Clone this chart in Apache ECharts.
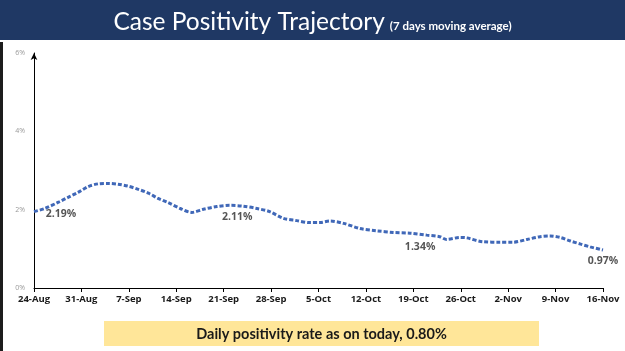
<!DOCTYPE html>
<html>
<head>
<meta charset="utf-8">
<script src="https://cdn.jsdelivr.net/npm/echarts@6/dist/echarts.min.js"></script>
<style>
html,body{margin:0;padding:0;background:#fff;}
#chart{width:625px;height:351px;}
</style>
</head>
<body>
<div id="chart"></div>
<script>
// Tick labels (one every 7 days, starting 24-Aug)
var tickLabels = ['24-Aug','31-Aug','7-Sep','14-Sep','21-Sep','28-Sep','5-Oct','12-Oct','19-Oct','26-Oct','2-Nov','9-Nov','16-Nov'];
// Day offset from 24-Aug of each point
var days = [0,1.6,3.6,5.1,6.5,8.0,9.5,11.0,12.4,13.9,15.4,16.9,18.3,19.8,21.6,23.3,25.0,27.0,28.9,30.9,32.9,34.8,36.8,38.8,40.7,42.2,43.7,45.7,48.1,50.6,53.0,55.5,58.0,59.9,60.9,62.9,63.9,66.3,68.8,70.7,72.8,74.7,76.2,77.7,79.2,80.7,82.1,84];
// 7-day moving average positivity rate (%)
var rates = [1.95,2.03,2.19,2.32,2.44,2.59,2.66,2.67,2.65,2.60,2.52,2.42,2.29,2.18,2.03,1.93,2.01,2.08,2.11,2.09,2.03,1.95,1.78,1.72,1.67,1.67,1.71,1.65,1.52,1.46,1.42,1.40,1.35,1.31,1.24,1.29,1.28,1.18,1.17,1.17,1.24,1.31,1.33,1.29,1.20,1.12,1.05,0.97];
// Annotated values
var noteDays = [4,30,57,84];
var noteRates = [2.19,2.11,1.34,0.97];
var titleMain = 'Case Positivity Trajectory';
var titleSub = '(7 days moving average)';
var footerText = 'Daily positivity rate as on today, 0.80%';

var chart = echarts.init(document.getElementById('chart'), null, {renderer:'canvas'});
var lineData = days.map(function(d,i){return [d, rates[i]];});
var noteData = noteDays.map(function(d,i){return [d, noteRates[i]];});

chart.setOption({
  animation:false,
  backgroundColor:'#ffffff',
  title:{
    text:'{a|'+titleMain+'} {b|'+titleSub+'}',
    left:'center', top:5,
    textStyle:{
      rich:{
        a:{fontFamily:'Lato',fontSize:24.5,color:'#ffffff',fontWeight:'normal',verticalAlign:'bottom'},
        b:{fontFamily:'Lato',fontSize:11.5,color:'#ffffff',fontWeight:'bold',verticalAlign:'bottom',padding:[0,0,3,0]}
      }
    }
  },
  graphic:[
    {type:'rect',z:-10,shape:{x:0,y:0,width:625,height:40},style:{fill:'#1F3864'}},
    {type:'rect',z:-10,shape:{x:0,y:42,width:3,height:309},style:{fill:'#1c1c1c'}},
    {type:'rect',z:-10,shape:{x:104,y:321,width:435,height:25},style:{fill:'#FFE699'}},
    {type:'text',z:10,style:{x:321.5,y:334,text:footerText,textAlign:'center',textVerticalAlign:'middle',
      font:'bold 14.5px Lato',fill:'#1a1a1a'}}
  ],
  grid:{left:34,right:22,top:53,bottom:63},
  xAxis:{
    type:'value',min:0,max:84,interval:7,
    axisLine:{show:true,lineStyle:{color:'#000',width:1}},
    axisTick:{show:true,length:4,inside:false,lineStyle:{color:'#000'}},
    splitLine:{show:false},
    axisLabel:{
      formatter:function(v){return tickLabels[Math.round(v/7)];},
      fontFamily:'Open Sans',fontWeight:'bold',fontSize:9.5,color:'#1a1a1a',margin:6
    }
  },
  yAxis:{
    type:'value',min:0,max:6,interval:2,
    axisLine:{show:true,symbol:['none','arrow'],symbolSize:[5,7],lineStyle:{color:'#000',width:1}},
    axisTick:{show:false},
    splitLine:{show:false},
    axisLabel:{formatter:'{value}%',fontFamily:'Open Sans',fontSize:7,color:'#999',margin:9}
  },
  series:[
    {
      type:'line',data:lineData,smooth:0.3,showSymbol:false,symbol:'none',
      lineStyle:{color:'#4068B8',width:3,type:[4,2]}
    },
    {
      type:'scatter',data:noteData,symbolSize:0,silent:true,
      label:{show:true,position:'bottom',distance:6,
        formatter:function(p){return p.value[1].toFixed(2)+'%';},
        fontFamily:'Open Sans',fontWeight:'bold',fontSize:10.5,color:'#2a2a2a'}
    }
  ]
});
</script>
</body>
</html>
